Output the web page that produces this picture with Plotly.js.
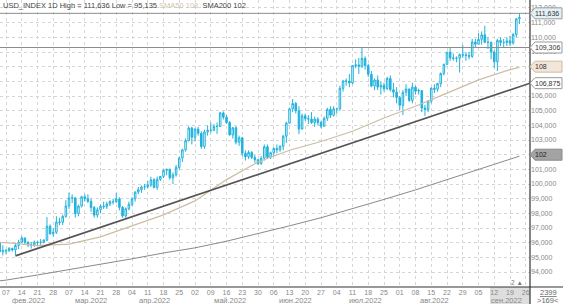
<!DOCTYPE html>
<html><head><meta charset="utf-8">
<script src="https://cdn.plot.ly/plotly-3.0.1.min.js"></script>
<style>html,body{margin:0;padding:0;background:#fff}#chart{width:563px;height:304px}</style>
</head><body><div id="chart"></div>
<script>
// ---- trading days (categories) ----
const febDays = [3,4,7,8,9,10,11,14,15,16,17,18,21,22,23,24,25,28];
const marDays = [1,2,3,4,7,8,9,10,11,14,15,16,17,18,21,22,23,24,25,28,29,30,31];
const aprDays = [1,4,5,6,7,8,11,12,13,14,15,18,19,20,21,22,25,26,27,28,29];
const mayDays = [2,3,4,5,6,9,10,11,12,13,16,17,18,19,20,23,24,25,26,27,30,31];
const junDays = [1,2,3,6,7,8,9,10,13,14,15,16,17,20,21,22,23,24,27,28,29,30];
const julDays = [1,4,5,6,7,8,11,12,13,14,15,18,19,20,21,22,25,26,27,28,29];
const augDays = [1,2,3,4,5,8,9,10,11,12,15,16,17,18,19,22,23,24,25,26,29,30,31];
const sepDays = [1,2,5,6,7,8,9,12,13,14,15,16,19,20,21,22];

// ---- OHLC ----
const openVals = [
96.02,95.39,95.47,95.45,95.61,95.51,95.81,96.03,96.32,96.03,95.86,95.85,96.04,96.02,96.03,96.17,97.12,96.61,
96.71,97.41,97.39,97.79,98.51,99.05,99.06,97.99,98.50,99.13,99.00,98.82,98.40,97.88,98.24,98.49,98.46,98.64,98.80,98.79,98.98,98.41,97.82,
98.31,98.62,98.99,99.45,99.61,99.80,99.81,99.94,100.29,99.77,100.32,100.52,100.93,101.00,100.43,100.62,101.13,101.77,102.33,102.96,103.82,
103.19,103.74,103.46,102.56,103.55,103.66,103.67,103.92,103.92,104.85,104.56,104.19,103.35,103.83,102.85,103.15,102.10,101.86,102.15,101.81,101.66,101.40,
101.76,102.54,101.82,102.14,102.42,102.33,102.57,103.26,104.15,105.12,105.49,105.00,103.75,104.65,104.45,104.43,104.19,104.42,104.20,103.94,104.48,105.09,
104.69,105.13,105.13,106.52,107.02,107.01,106.89,108.07,108.12,108.02,108.56,108.07,107.48,106.68,107.09,106.61,106.73,106.50,107.20,106.43,106.26,
105.90,105.37,106.25,106.48,105.70,106.60,106.33,106.37,105.18,105.08,105.65,106.53,106.46,106.85,107.53,108.16,108.99,108.60,108.57,108.58,108.82,108.79,108.77,
108.70,109.68,109.53,109.86,110.17,109.66,109.66,109.00,108.33,109.79,109.65,109.65,109.76,109.61,110.19,111.26];
const highVals = [
96.10,95.82,95.58,95.70,95.66,96.00,96.20,96.44,96.35,96.10,96.05,96.15,96.10,96.25,96.25,97.74,97.25,97.00,
97.80,97.70,97.90,98.90,99.42,99.30,99.10,98.60,99.20,99.30,99.30,99.00,98.50,98.40,98.60,98.80,98.80,98.90,99.00,99.40,99.10,98.50,98.40,
98.80,99.10,99.50,99.80,99.90,100.00,100.20,100.50,100.40,100.50,100.55,101.00,101.05,101.05,100.80,101.30,101.86,102.40,103.10,103.93,103.90,
103.80,103.90,103.60,103.70,104.00,104.20,104.10,104.20,104.92,104.95,104.70,104.30,103.90,103.95,103.30,103.20,102.30,102.30,102.25,102.00,101.70,101.90,
102.70,102.70,102.20,102.50,102.70,102.65,103.35,104.25,105.20,105.79,105.60,105.30,104.80,104.80,104.70,104.90,104.60,104.55,104.30,104.60,105.20,105.30,
105.30,105.20,106.70,107.10,107.20,107.50,108.10,108.50,108.59,109.29,108.70,108.20,107.70,107.20,107.40,107.00,106.90,107.30,107.40,106.90,106.60,
106.00,106.40,106.80,106.50,106.90,106.70,106.50,106.40,105.40,105.70,106.60,106.80,106.90,107.60,108.20,109.00,109.27,108.90,108.70,108.90,109.48,109.00,109.00,
109.90,109.90,110.27,110.40,110.79,110.00,109.70,109.10,109.90,110.00,109.90,110.00,110.10,110.30,111.30,111.636];
const lowVals = [
95.37,95.135,95.22,95.38,95.40,95.16,95.55,95.99,95.90,95.70,95.60,95.72,95.80,95.85,95.95,96.10,96.55,96.40,
96.60,97.20,97.20,97.70,98.30,98.70,97.71,97.80,98.40,98.80,98.70,98.10,97.70,97.70,98.00,98.30,98.30,98.50,98.60,98.70,98.20,97.70,97.70,
98.20,98.50,98.80,99.30,99.40,99.60,99.70,99.80,99.70,99.60,100.20,100.40,100.60,100.30,100.00,100.50,101.00,101.50,102.20,102.90,102.70,
102.90,103.30,102.40,102.40,103.30,103.50,103.60,103.40,103.90,104.40,104.10,103.30,103.10,102.70,102.60,101.90,101.60,101.70,101.70,101.45,101.30,101.30,
101.60,101.70,101.70,101.90,102.10,102.20,102.30,102.80,104.10,104.90,104.80,103.40,103.70,104.30,104.10,104.10,103.90,104.00,103.80,103.90,104.30,104.50,
104.60,104.80,105.00,106.30,106.70,106.60,106.80,107.90,107.50,107.90,107.80,107.30,106.60,106.40,106.40,106.10,106.30,106.40,106.30,105.90,105.50,
105.04,104.70,106.00,105.60,105.50,106.10,106.10,104.90,104.64,104.90,105.50,106.20,106.30,106.60,107.40,108.10,108.40,108.40,108.30,107.60,108.60,108.40,108.50,
108.60,109.30,109.50,109.50,109.60,109.20,108.50,107.90,107.70,109.40,109.30,109.40,109.40,109.50,110.00,110.90];
const closeVals = [
95.39,95.47,95.45,95.61,95.51,95.81,96.03,96.32,96.03,95.86,95.85,96.04,96.02,96.03,96.17,97.12,96.61,96.71,
97.41,97.39,97.79,98.51,99.05,99.06,97.99,98.50,99.13,99.00,98.82,98.40,97.88,98.24,98.49,98.46,98.64,98.80,98.79,98.98,98.41,97.82,98.31,
98.62,98.99,99.45,99.61,99.80,99.81,99.94,100.29,99.77,100.32,100.52,100.93,101.00,100.43,100.62,101.13,101.77,102.33,102.96,103.82,103.19,
103.74,103.46,102.56,103.55,103.66,103.67,103.92,103.92,104.85,104.56,104.19,103.35,103.83,102.85,103.15,102.10,101.86,102.15,101.81,101.66,101.40,101.76,
102.54,101.82,102.14,102.42,102.33,102.57,103.26,104.15,105.12,105.49,105.00,103.75,104.65,104.45,104.43,104.19,104.42,104.20,103.94,104.48,105.09,104.69,
105.13,105.13,106.52,107.02,107.01,106.89,108.07,108.12,108.02,108.56,108.07,107.48,106.68,107.09,106.61,106.73,106.50,107.20,106.43,106.26,105.90,
105.37,106.25,106.48,105.70,106.60,106.33,106.37,105.18,105.08,105.65,106.53,106.46,106.85,107.53,108.16,108.99,108.60,108.57,108.58,108.82,108.79,108.77,108.70,
109.68,109.53,109.86,110.17,109.66,109.66,109.00,108.33,109.79,109.65,109.65,109.76,109.61,110.19,111.26,111.35];

// ---- moving averages ----
const smaDates = ['2022-02-03','2022-02-07','2022-02-21','2022-03-07','2022-03-21','2022-04-04','2022-04-18','2022-05-02','2022-05-16','2022-05-30','2022-06-13','2022-06-27','2022-07-11','2022-07-25','2022-08-08','2022-08-22','2022-09-05','2022-09-19','2022-09-22'];
const sma50Vals  = [96.0,96.0,95.8,95.9,96.4,97.15,97.9,98.85,100.3,101.5,102.3,102.9,103.6,104.5,105.3,106.2,107.1,107.8,107.95];
const sma200Vals = [93.4,93.45,93.8,94.15,94.5,94.9,95.3,95.65,96.1,96.6,97.15,97.7,98.3,98.95,99.6,100.3,101.0,101.7,101.9];

// ---- drawn levels / trend line ----
const levelVals = [111.636, 109.306];
const trendDates = ['2022-02-10','2022-08-11'];
const trendVals = [95.10, 104.47];
const tagVals = [111.636, 109.306, 108, 106.875, 102];
const tagText = ['111,636','109,306','108','106,875','102'];

// ---- axis labels ----
const yTickVals = [94,95,96,97,98,99,100,101,102,103,104,105,106,107,108,109,110,111,112];
const yTickText = ['94,000','95,000','96,000','97,000','98,000','99,000','100,000','101,000','','103,000','104,000','105,000','106,000','','','109,000','110,000','111,000','112,000'];
const xTickText = ['07','14','21','28','07','14','21','28','04','11','18','25','02','09','16','23','30','06','13','20','27','04','11','18','25','01','08','15','22','29','05','12','19','26'];
const monthLabels = ['фев.2022','мар.2022','апр.2022','май.2022','июн.2022','июл.2022','авг.2022','сен.2022'];
const monthAnchors = ['2022-02-16','2022-03-16','2022-04-13','2022-05-17','2022-06-15','2022-07-15','2022-08-16','2022-09-16'];

const pad = n => (n < 10 ? '0' : '') + n;
const dates = [];
[['02',febDays],['03',marDays],['04',aprDays],['05',mayDays],['06',junDays],['07',julDays],['08',augDays],['09',sepDays]]
  .forEach(([m, ds]) => ds.forEach(d => dates.push('2022-' + m + '-' + pad(d))));
const idx = d => dates.indexOf(d);
const xIdx = dates.map((d, i) => i);

const W = 530, H = 287;
const xp = px => px / W;
const yp = py => (H - py) / H;
const xRange = [0.095, 168.35];
const yRange = [92.98, 112.545];
const firstMon = idx('2022-02-07');
const xTickVals = xTickText.map((_, k) => firstMon + 5 * k);

const candleColor = '#22b2dd';
const traces = [
  {type:'scatter', mode:'lines', x: smaDates.map(idx), y: sma200Vals, line:{color:'#8a8a8a', width:1}, hoverinfo:'skip'},
  {type:'scatter', mode:'lines', x: smaDates.map(idx), y: sma50Vals, line:{color:'#cdbca3', width:1.2}, hoverinfo:'skip'},
  {type:'candlestick', x: xIdx, open: openVals, high: highVals, low: lowVals, close: closeVals,
   whiskerwidth: 0,
   increasing:{line:{color:candleColor, width:1}, fillcolor:'#ffffff'},
   decreasing:{line:{color:candleColor, width:1}, fillcolor:candleColor}}
];

const t0 = idx(trendDates[0]), t1 = idx(trendDates[1]);
const slope = (trendVals[1] - trendVals[0]) / (t1 - t0);
const shapes = [];
shapes.push({type:'rect', xref:'paper', yref:'paper', x0:xp(490), x1:xp(530), y0:yp(304), y1:yp(287), fillcolor:'#dedede', line:{width:0}, layer:'below'});
levelVals.forEach(v => shapes.push({type:'line', xref:'paper', yref:'y', x0:0, x1:1, y0:v, y1:v, line:{color:'#8c8c8c', width:1}}));
shapes.push({type:'line', xref:'x', yref:'y', x0:t0, y0:trendVals[0], x1:xRange[1], y1:trendVals[0] + slope * (xRange[1] - t0), line:{color:'#555555', width:1.7}});
shapes.push({type:'line', xref:'paper', yref:'paper', x0:0, x1:563 / W, y0:yp(287), y1:yp(287), line:{color:'#333', width:1.2}});
shapes.push({type:'line', xref:'paper', yref:'paper', x0:1, x1:1, y0:yp(304), y1:yp(0), line:{color:'#333', width:1.2}});
const tagStyles = [
  {fill:'#e3f1f6', line:'#9a9a9a', font:'#333'},
  {fill:'#ffffff', line:'#9a9a9a', font:'#333'},
  {fill:'#f3e6d8', line:'#cdbca3', font:'#333'},
  {fill:'#ffffff', line:'#9a9a9a', font:'#333'},
  {fill:'#a3a3a3', line:'#8a8a8a', font:'#222'}
];
const hh = 5.5 * (yRange[1] - yRange[0]) / H;
tagVals.forEach((v, i) => {
  const a = 1, b = xp(535), c = xp(562);
  shapes.push({type:'path', xref:'paper', yref:'y', layer:'above',
    path:`M ${a},${v} L ${b},${v + hh} L ${c},${v + hh} L ${c},${v - hh} L ${b},${v - hh} Z`,
    fillcolor: tagStyles[i].fill, line:{color: tagStyles[i].line, width:1}});
});

const annotations = [];
tagVals.forEach((v, i) => annotations.push({xref:'paper', yref:'y', x:xp(533), y:v, text:tagText[i], showarrow:false,
  xanchor:'left', yanchor:'middle', font:{size:7, color:tagStyles[i].font}}));
annotations.push({xref:'paper', yref:'paper', x:xp(1), y:yp(5.5), xanchor:'left', yanchor:'middle', showarrow:false,
  text:'USD_INDEX 1D High = 111,636 Low = 95,135 <span style="color:#d2c3ad">SMA50 108</span>  SMA200 102',
  font:{size:7.5, color:'#444'}});
monthLabels.forEach((m, i) => annotations.push({xref:'x', yref:'paper', x:idx(monthAnchors[i]), y:yp(300), text:m,
  showarrow:false, xanchor:'center', yanchor:'middle', font:{size:7.5, color:'#888'}}));
annotations.push({xref:'paper', yref:'paper', x:xp(517), y:yp(282), text:'2 ▲', showarrow:false, xanchor:'center', yanchor:'middle', font:{size:6.5, color:'#777'}});
annotations.push({xref:'paper', yref:'paper', x:xp(548), y:yp(292), text:'<span style="text-decoration:underline">2399</span>', showarrow:false, xanchor:'center', yanchor:'middle', font:{size:7.5, color:'#666'}});
annotations.push({xref:'paper', yref:'paper', x:xp(548), y:yp(300), text:'&gt;169&lt;', showarrow:false, xanchor:'center', yanchor:'middle', font:{size:7.5, color:'#666'}});

const layout = {
  width:563, height:304,
  margin:{l:0, r:33, t:0, b:17, pad:0},
  paper_bgcolor:'#ffffff', plot_bgcolor:'#ffffff',
  font:{family:'Liberation Sans, Arial, sans-serif', size:7.5, color:'#888'},
  showlegend:false,
  xaxis:{type:'linear', range:xRange, tickmode:'array', tickvals:xTickVals, ticktext:xTickText,
    showgrid:true, gridcolor:'#d6d6d6', griddash:'dot', gridwidth:1, zeroline:false, showline:false,
    ticks:'', tickfont:{size:7, color:'#888'}, rangeslider:{visible:false}, fixedrange:true},
  yaxis:{side:'right', range:yRange, tickmode:'array', tickvals:yTickVals, ticktext:yTickText,
    showgrid:true, gridcolor:'#d6d6d6', griddash:'dot', gridwidth:1, zeroline:false, showline:false,
    ticks:'', tickfont:{size:7, color:'#888'}, fixedrange:true},
  shapes:shapes, annotations:annotations
};
Plotly.newPlot('chart', traces, layout, {staticPlot:true, displayModeBar:false});
</script></body></html>
